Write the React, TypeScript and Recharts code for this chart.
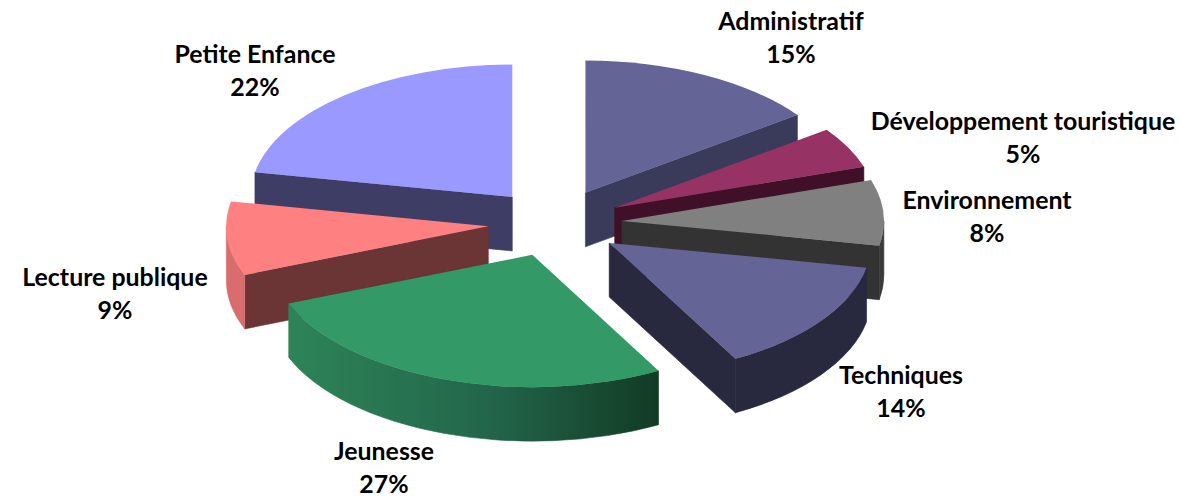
import { PieChart, Pie } from 'recharts';

const names = [
  'Administratif',
  'Développement touristique',
  'Environnement',
  'Techniques',
  'Jeunesse',
  'Lecture publique',
  'Petite Enfance',
];
const values = [15, 5, 8, 14, 27, 9, 22];

// Top face, radial cut wall, outer rim wall
const topColors = ['#646496', '#963264', '#808080', '#646496', '#339966', '#ff8080', '#9999ff'];
const cutColors = ['#3a3a5a', '#3f1028', '#333333', '#28283f', '#1a4d33', '#6b3535', '#3d3d66'];
const rimColors = ['#3a3a5a', '#3f1028', '#3a3a3a', '#28283f', 'url(#jeunesseRim)', '#d96d6d', '#3d3d66'];

// Label centres on the canvas, [x, y of the first baseline]
const labelSpots = [
  [791, 30],
  [1023, 130],
  [987, 209],
  [901, 384],
  [384, 460],
  [115, 286],
  [255, 63],
];

const WIDTH = 1183;
const HEIGHT = 497;
const TILT = 0.505; // vertical squash of the disc
const DEPTH = 54; // extrusion height
const EXPLODE = 67; // how far each slice is pulled out

const rows = names.map((name, i) => ({
  name,
  value: values[i],
  fill: topColors[i],
  cut: cutColors[i],
  rim: rimColors[i],
  spot: labelSpots[i],
}));

// Drawn in two runs from the top so nearer slices paint over farther ones
const rightRun = rows.slice(0, 4);
const leftRun = rows.slice(4).reverse();
const total = values.reduce((a, b) => a + b, 0);
const share = (list: typeof rows) => (list.reduce((a, r) => a + r.value, 0) / total) * 360;

const RAD = Math.PI / 180;
const FRONT = [
  [-180, 0],
  [180, 360],
];

function Slice3D(props: any) {
  const { cx, cy, outerRadius: r, startAngle, endAngle, midAngle, fill, payload } = props;
  const row = payload?.cut ? payload : props;
  const hi = Math.max(startAngle, endAngle);
  const lo = Math.min(startAngle, endAngle);
  const ox = cx + EXPLODE * Math.cos(midAngle * RAD);
  const oy = cy - EXPLODE * TILT * Math.sin(midAngle * RAD);
  const ry = r * TILT;
  const pt = (a: number, drop = 0) =>
    `${ox + r * Math.cos(a * RAD)} ${oy - ry * Math.sin(a * RAD) + drop}`;

  const cutWall = (a: number) =>
    `M${ox} ${oy}L${pt(a)}L${pt(a, DEPTH)}L${ox} ${oy + DEPTH}Z`;

  // Only the cut faces turned towards the viewer get drawn
  const cuts: number[] = [];
  if (Math.cos(hi * RAD) < -0.001) cuts.push(hi);
  if (Math.cos(lo * RAD) > 0.001) cuts.push(lo);

  const rimWalls = FRONT.map(([from, to]) => [Math.max(from, lo), Math.min(to, hi)])
    .filter(([a, b]) => b > a)
    .map(([a, b]) => {
      const large = b - a > 180 ? 1 : 0;
      return `M${pt(b)}A${r} ${ry} 0 ${large} 1 ${pt(a)}L${pt(a, DEPTH)}A${r} ${ry} 0 ${large} 0 ${pt(b, DEPTH)}Z`;
    });

  const large = hi - lo > 180 ? 1 : 0;
  const top = `M${ox} ${oy}L${pt(hi)}A${r} ${ry} 0 ${large} 1 ${pt(lo)}Z`;

  return (
    <g>
      <defs>
        <linearGradient id="jeunesseRim" gradientUnits="userSpaceOnUse" x1="289" y1="0" x2="661" y2="0">
          <stop offset="0" stopColor="#2d8458" />
          <stop offset="0.55" stopColor="#22654a" />
          <stop offset="1" stopColor="#123a24" />
        </linearGradient>
      </defs>
      {cuts.map((a) => (
        <path key={a} d={cutWall(a)} fill={row.cut} stroke={row.cut} strokeWidth={0.6} />
      ))}
      {rimWalls.map((d) => (
        <path key={d} d={d} fill={row.rim} stroke={row.rim} strokeWidth={0.6} />
      ))}
      <path d={top} fill={fill} />
    </g>
  );
}

function renderLabel(props: any) {
  const { name, value, payload } = props;
  const spot = (payload?.spot ?? props.spot) as number[];
  return (
    <text
      x={spot[0]}
      y={spot[1]}
      textAnchor="middle"
      fill="#000000"
      style={{ fontFamily: 'Lato, sans-serif', fontWeight: 700, fontSize: 24.9 }}
    >
      <tspan x={spot[0]}>{name}</tspan>
      <tspan x={spot[0]} dy={33}>
        {value}%
      </tspan>
    </text>
  );
}

export default function App() {
  return (
    <div style={{ position: 'absolute', left: 0, top: 0, width: WIDTH, height: HEIGHT, background: '#ffffff' }}>
      <PieChart width={WIDTH} height={HEIGHT} margin={{ top: 0, right: 0, bottom: 0, left: 0 }}>
        <Pie
          data={rightRun}
          dataKey="value"
          nameKey="name"
          cx={555}
          cy={223}
          outerRadius={262}
          startAngle={90}
          endAngle={90 - share(rightRun)}
          stroke="none"
          shape={Slice3D}
          label={renderLabel}
          labelLine={false}
          isAnimationActive={false}
        />
        <Pie
          data={leftRun}
          dataKey="value"
          nameKey="name"
          cx={555}
          cy={223}
          outerRadius={262}
          startAngle={90}
          endAngle={90 + share(leftRun)}
          stroke="none"
          shape={Slice3D}
          label={renderLabel}
          labelLine={false}
          isAnimationActive={false}
        />
      </PieChart>
    </div>
  );
}
